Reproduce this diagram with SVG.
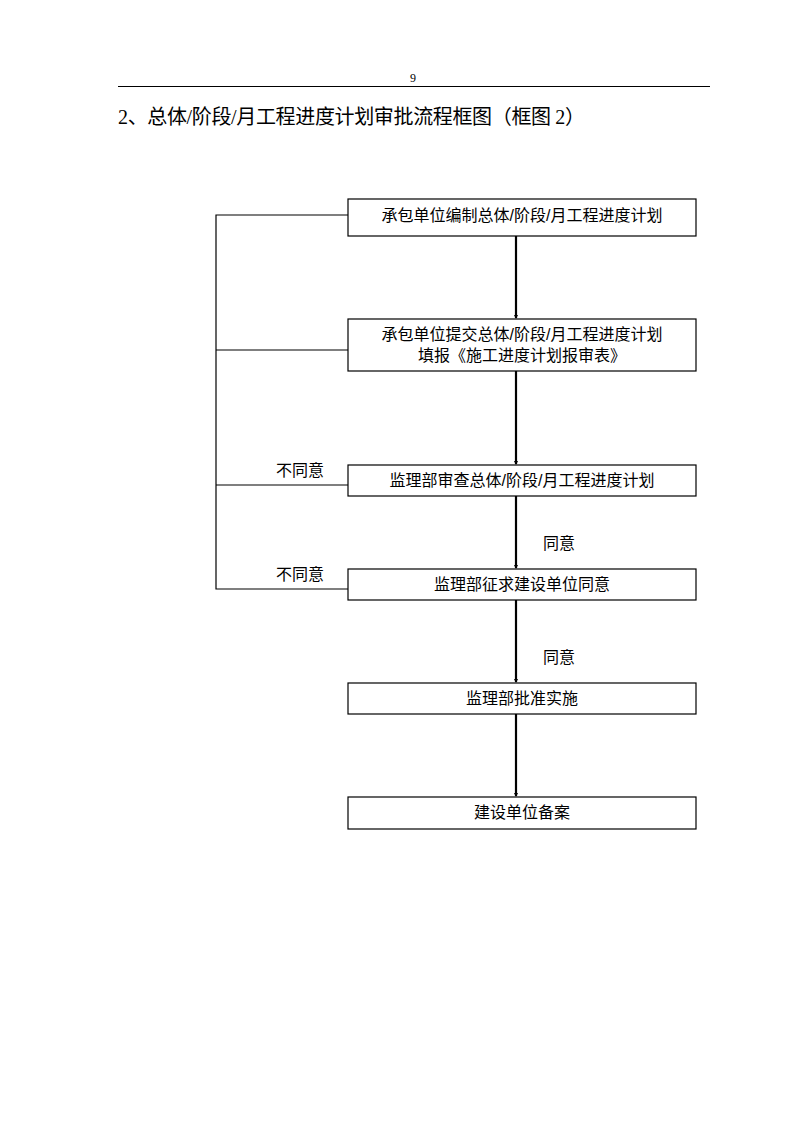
<svg xmlns="http://www.w3.org/2000/svg" width="794" height="1123" viewBox="0 0 794 1123">
<style>
.box{fill:#fff;stroke:#000;stroke-width:1.2}
.t{font-family:"Liberation Sans","Noto Sans CJK SC",sans-serif;font-size:16px;fill:#000;text-anchor:middle}
.lbl{font-family:"Liberation Sans","Noto Sans CJK SC",sans-serif;font-size:16px;fill:#000}
.fb{fill:none;stroke:#000;stroke-width:1.2}
.ar{fill:none;stroke:#000;stroke-width:2.2}
</style>
<defs>
<marker id="ah" markerWidth="4" markerHeight="4" refX="3" refY="2" orient="auto" markerUnits="userSpaceOnUse">
<path d="M0,0 L4,2 L0,4 Z" fill="#000"/>
</marker>
</defs>
<g id="header">
<text x="413" y="82" font-family="Liberation Serif, serif" font-size="12" text-anchor="middle">9</text>
<line x1="118" y1="86.5" x2="710" y2="86.5" stroke="#000" stroke-width="1.2"/>
<text x="118" y="124" font-family="Liberation Serif,'Noto Sans CJK SC',serif" font-size="20" textLength="467" lengthAdjust="spacing">2、总体/阶段/月工程进度计划审批流程框图（框图 2）</text>
</g>
<g id="connectors">
<polyline class="fb" points="348,215 216,215 216,589 348,589"/>
<line class="fb" x1="216" y1="350" x2="348" y2="350"/>
<line class="fb" x1="216" y1="485" x2="348" y2="485"/>
<line class="ar" x1="516" y1="236" x2="516" y2="318" marker-end="url(#ah)"/>
<line class="ar" x1="516" y1="371" x2="516" y2="464" marker-end="url(#ah)"/>
<line class="ar" x1="516" y1="496" x2="516" y2="568" marker-end="url(#ah)"/>
<line class="ar" x1="516" y1="600" x2="516" y2="682" marker-end="url(#ah)"/>
<line class="ar" x1="516" y1="714" x2="516" y2="796" marker-end="url(#ah)"/>
<text class="lbl" x="276" y="476">不同意</text>
<text class="lbl" x="276" y="580">不同意</text>
<text class="lbl" x="543" y="549">同意</text>
<text class="lbl" x="543" y="663">同意</text>
</g>
<g id="n1"><rect class="box" x="348" y="199" width="348" height="37"/><text class="t" x="522" y="221">承包单位编制总体/阶段/月工程进度计划</text></g>
<g id="n2"><rect class="box" x="348" y="319" width="348" height="52"/><text class="t" x="522" y="340">承包单位提交总体/阶段/月工程进度计划</text><text class="t" x="522" y="361">填报《施工进度计划报审表》</text></g>
<g id="n3"><rect class="box" x="348" y="465" width="348" height="31"/><text class="t" x="522" y="486">监理部审查总体/阶段/月工程进度计划</text></g>
<g id="n4"><rect class="box" x="348" y="569" width="348" height="31"/><text class="t" x="522" y="590">监理部征求建设单位同意</text></g>
<g id="n5"><rect class="box" x="348" y="683" width="348" height="31"/><text class="t" x="522" y="704">监理部批准实施</text></g>
<g id="n6"><rect class="box" x="348" y="797" width="348" height="32"/><text class="t" x="522" y="818">建设单位备案</text></g>
</svg>
